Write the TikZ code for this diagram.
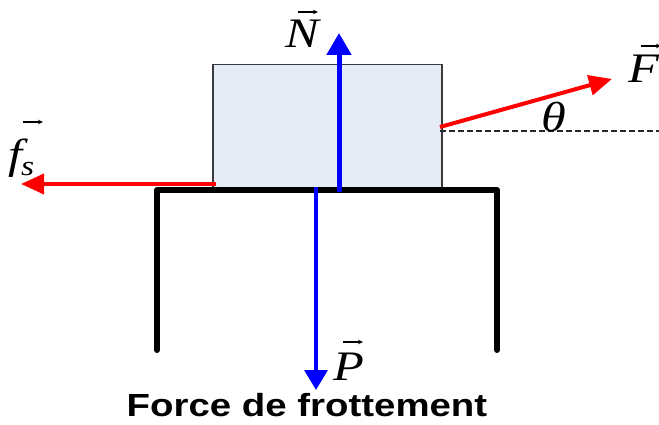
\documentclass[tikz,border=0pt]{standalone}
\usepackage{fontspec}
\usetikzlibrary{arrows.meta}
\newfontfamily\capfont{Liberation Sans}
\newfontfamily\lblfont{Liberation Serif}
\definecolor{blockfill}{HTML}{E6ECF6}
\definecolor{blockedge}{HTML}{3A3A3A}
\tikzset{
  blockbox/.style={draw=blockedge, line width=1.3pt, fill=blockfill, minimum width=229pt, minimum height=123pt, inner sep=0pt},
  tableline/.style={line width=6pt, line cap=round, line join=round},
  redvec/.style={draw=red, line width=4pt, -{Triangle[length=23pt,width=20pt]}},
  bluevecN/.style={draw=blue, line width=5pt, -{Triangle[length=22pt,width=24pt]}},
  bluevecP/.style={draw=blue, line width=3.5pt, -{Triangle[length=20pt,width=23pt]}},
  refline/.style={draw=black!85, line width=2.6pt, dash pattern=on 6pt off 3pt},
  mathlbl/.style={inner sep=0pt, anchor=base west, font=\fontsize{42}{46}\selectfont\lblfont\itshape},
  vecmark/.style={line width=1.1pt, -{Stealth[length=5pt,width=4.5pt]}},
  caption/.style={inner sep=0pt, anchor=base, font=\fontsize{32}{36}\selectfont\capfont\bfseries}
}
\begin{document}
\begin{tikzpicture}[x=1pt,y=-1pt]
\useasboundingbox (0,0) rectangle (659,425);
\node[blockbox] (block) at (327.5,126) {};
% table
\coordinate (tl) at (157,350);
\coordinate (tlt) at (157,190);
\coordinate (trt) at (497,190);
\coordinate (tr) at (497,350);
\draw[tableline] (tl) -- (tlt) -- (trt) -- (tr);
% reference dashed line
\coordinate (fo) at (440,131);
\coordinate (fe) at (659,131);
\draw[refline] (fo) -- (fe);
% forces
\coordinate (Fs) at (440,127);
\coordinate (Ft) at (612,79);
\draw[redvec] (Fs) -- (Ft);
\coordinate (fss) at (216,184);
\coordinate (fst) at (21,184);
\draw[redvec] (fss) -- (fst);
\coordinate (Ns) at (339,192);
\coordinate (Nt) at (339,33);
\draw[bluevecN] (Ns) -- (Nt);
\coordinate (Ps) at (316,187);
\coordinate (Pt) at (316,390);
\draw[bluevecP] (Ps) -- (Pt);
% labels
\node[mathlbl] (lN) at (285,48) {\scalebox{1.2}[1]{N}};
\draw[vecmark] ([shift={(13,-36)}]lN.base west) -- ([shift={(33,-36)}]lN.base west);
\node[mathlbl] (lF) at (628,83) {\scalebox{1.2}[1]{F}};
\draw[vecmark] ([shift={(13,-37)}]lF.base west) -- ([shift={(33,-37)}]lF.base west);
\node[mathlbl] (lth) at (541,132) {\scalebox{1.2}[1]{θ}};
\node[mathlbl] (lf) at (8,168) {\scalebox{1.2}[1]{f\kern-1pt\raisebox{-8pt}{\fontsize{28}{30}\selectfont s}}};
\draw[vecmark] ([shift={(15,-46)}]lf.base west) -- ([shift={(35,-46)}]lf.base west);
\node[mathlbl] (lP) at (333,380) {\scalebox{1.2}[1]{P}};
\draw[vecmark] ([shift={(10,-38)}]lP.base west) -- ([shift={(30,-38)}]lP.base west);
\node[caption] (cap) at (307,416) {\scalebox{1.2}[1]{Force de frottement}};
\end{tikzpicture}
\end{document}
